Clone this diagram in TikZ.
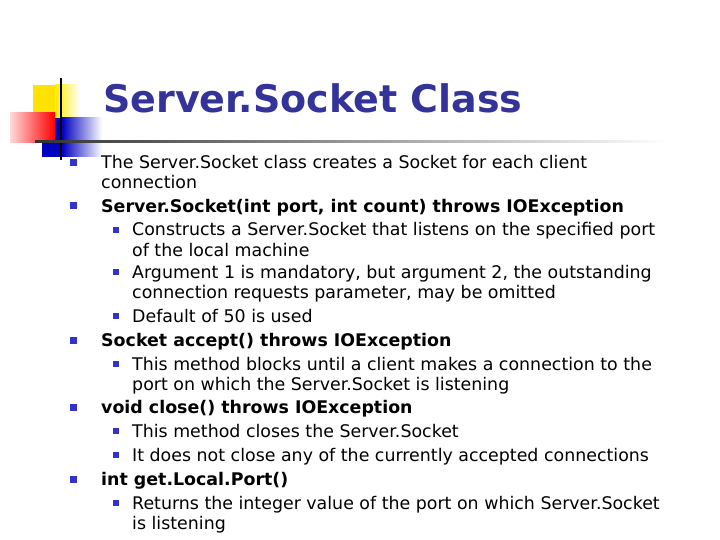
\documentclass[tikz,border=0pt]{standalone}
\usepackage{fontspec}
\setmainfont{DejaVu Sans}
\usetikzlibrary{fadings}
\definecolor{tblue}{HTML}{333399}
\definecolor{bblue}{HTML}{3333CC}
\begin{document}
\begin{tikzpicture}[x=1pt,y=-1pt,
  txt/.style={anchor=base west,inner sep=0pt,font=\fontsize{17.4}{18}\selectfont},
  bul/.style={fill=bblue,minimum size=7pt,inner sep=0pt},
  bulb/.style={fill=bblue,minimum size=6pt,inner sep=0pt}]
\useasboundingbox (0,0) rectangle (720,540);
% logo
\fill[yellow!85!orange] (33,85) rectangle (55,120);
\fill[left color=yellow!85!orange,right color=white] (55,85) rectangle (80,120);
\fill[blue!75!black] (42,118) rectangle (62,157);
\fill[left color=blue!75!black,right color=white] (62,118) rectangle (102,157);
\fill[left color=red!15,right color=red] (10,113) rectangle (55,143);
\draw[line width=1.5pt] (61,78) -- (61,160);
\shade[left color=black!80,right color=white] (35,140.3) rectangle (670,142.3);
\node[anchor=base west,inner sep=0pt,text=tblue,font=\fontsize{38}{44}\bfseries\selectfont] (title) at (103,113) {Server.Socket Class};
% level-1 bullets
\foreach \y/\n in {163/a,206/b,340/c,407/d,479/e} \node[bul] (b\n) at (73,\y) {};
\foreach \y/\n in {230/a,272/b,316/c,364/d,431/e,455/f,503/g} \node[bulb] (s\n) at (116,\y) {};
\node[txt] (l1) at (101,169) {The Server.Socket class creates a Socket for each client};
\node[txt] (l2) at (101,189) {connection};
\node[txt] (l3) at (101,212) {\bfseries Server.Socket(int port, int count) throws IOException};
\node[txt] (l4) at (132,236) {Constructs a Server.Socket that listens on the specified port};
\node[txt] (l5) at (132,256) {of the local machine};
\node[txt] (l6) at (132,278) {Argument 1 is mandatory, but argument 2, the outstanding};
\node[txt] (l7) at (132,298) {connection requests parameter, may be omitted};
\node[txt] (l8) at (132,322) {Default of 50 is used};
\node[txt] (l9) at (101,346) {\bfseries Socket accept() throws IOException};
\node[txt] (l10) at (132,370) {This method blocks until a client makes a connection to the};
\node[txt] (l11) at (132,390) {port on which the Server.Socket is listening};
\node[txt] (l12) at (101,413) {\bfseries void close() throws IOException};
\node[txt] (l13) at (132,437) {This method closes the Server.Socket};
\node[txt] (l14) at (132,461) {It does not close any of the currently accepted connections};
\node[txt] (l15) at (101,485) {\bfseries int get.Local.Port()};
\node[txt] (l16) at (132,509) {Returns the integer value of the port on which Server.Socket};
\node[txt] (l17) at (132,529) {is listening};
\end{tikzpicture}
\end{document}
